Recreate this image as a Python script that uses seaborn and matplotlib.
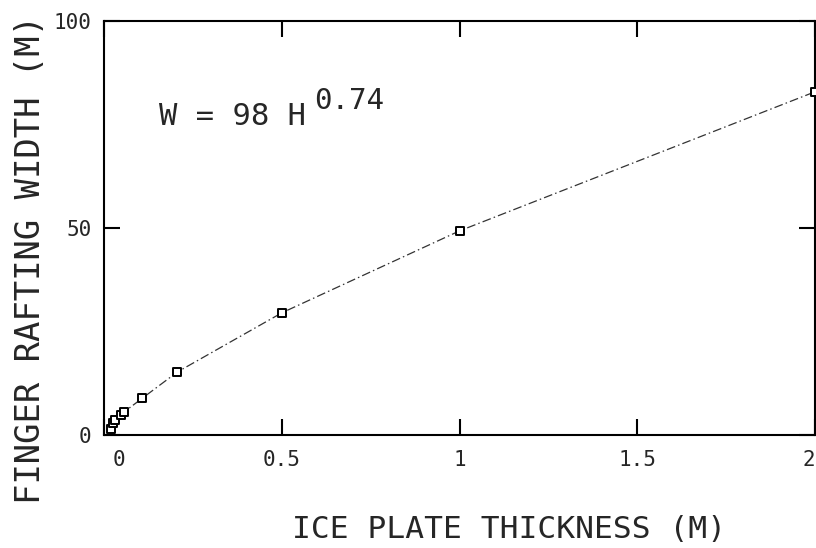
import matplotlib
matplotlib.use("Agg")
import matplotlib.pyplot as plt
import matplotlib.transforms as mtransforms
import seaborn as sns
import pandas as pd

# Ice plate thickness H (m) and finger rafting width W (m)
thickness = [0.020, 0.024, 0.032, 0.049, 0.057, 0.108, 0.206, 0.5, 1.0, 2.0]
width = [1.5, 2.8, 3.6, 4.8, 5.6, 8.9, 15.2, 29.5, 49.3, 82.9]

x_ticks = [0, 0.5, 1, 1.5, 2]
x_tick_labels = ["0", "0.5", "1", "1.5", "2"]
y_ticks = [0, 50, 100]
y_tick_labels = ["0", "50", "100"]

df = pd.DataFrame({"H": thickness, "W": width})

sns.set_style("ticks")
plt.rcParams["font.family"] = ["DejaVu Sans Mono", "DejaVu Sans"]

fig = plt.figure(figsize=(8.16, 5.48), dpi=100)
ax = fig.add_axes([104 / 816, 1 - 435 / 548, 711 / 816, 414 / 548])

# Fitted trend through the measurements
sns.lineplot(data=df, x="H", y="W", ax=ax, color="#333333", linewidth=0.9,
             dashes=False, sort=True, zorder=2)
ax.lines[0].set_dashes((7, 2.5, 1.2, 2.5))

sns.scatterplot(data=df, x="H", y="W", ax=ax, marker="s", s=34,
                facecolor="white", edgecolor="black", linewidth=1.4,
                zorder=3, clip_on=False)

ax.set_xlim(0, 2)
ax.set_ylim(0, 100)
ax.set_xticks(x_ticks)
ax.set_xticklabels(x_tick_labels)
ax.set_yticks(y_ticks)
ax.set_yticklabels(y_tick_labels)

ax.tick_params(axis="both", direction="in", length=11.5, width=1.5,
               labelsize=15, color="black")
ax.tick_params(axis="x", top=True, pad=11)
ax.tick_params(axis="y", right=True, pad=9)

# Nudge the end labels of the x axis so they sit inside the frame edges
xlabels = ax.get_xticklabels()
xlabels[0].set_transform(xlabels[0].get_transform() +
                         mtransforms.ScaledTranslation(0.15, 0, fig.dpi_scale_trans))
xlabels[-1].set_ha("right")

for side in ["left", "right", "top", "bottom"]:
    ax.spines[side].set_visible(True)
    ax.spines[side].set_linewidth(1.5)
    ax.spines[side].set_color("black")

ax.set_xlabel("ICE PLATE THICKNESS (M)", fontsize=22.5, ha="center", va="center")
ax.xaxis.set_label_coords(0.57, -0.229)
ax.set_ylabel("FINGER RAFTING WIDTH (M)", fontsize=24.4, ha="center", va="center")
ax.yaxis.set_label_coords(-0.103, 0.423)

# Power-law fit annotation
ax.text(0.155, 74.9, "W = 98 H", fontsize=22, ha="left", va="baseline")
ax.text(0.59, 78.8, "0.74", fontsize=21, ha="left", va="baseline")

fig.savefig("out.png", dpi=100, facecolor="white")
